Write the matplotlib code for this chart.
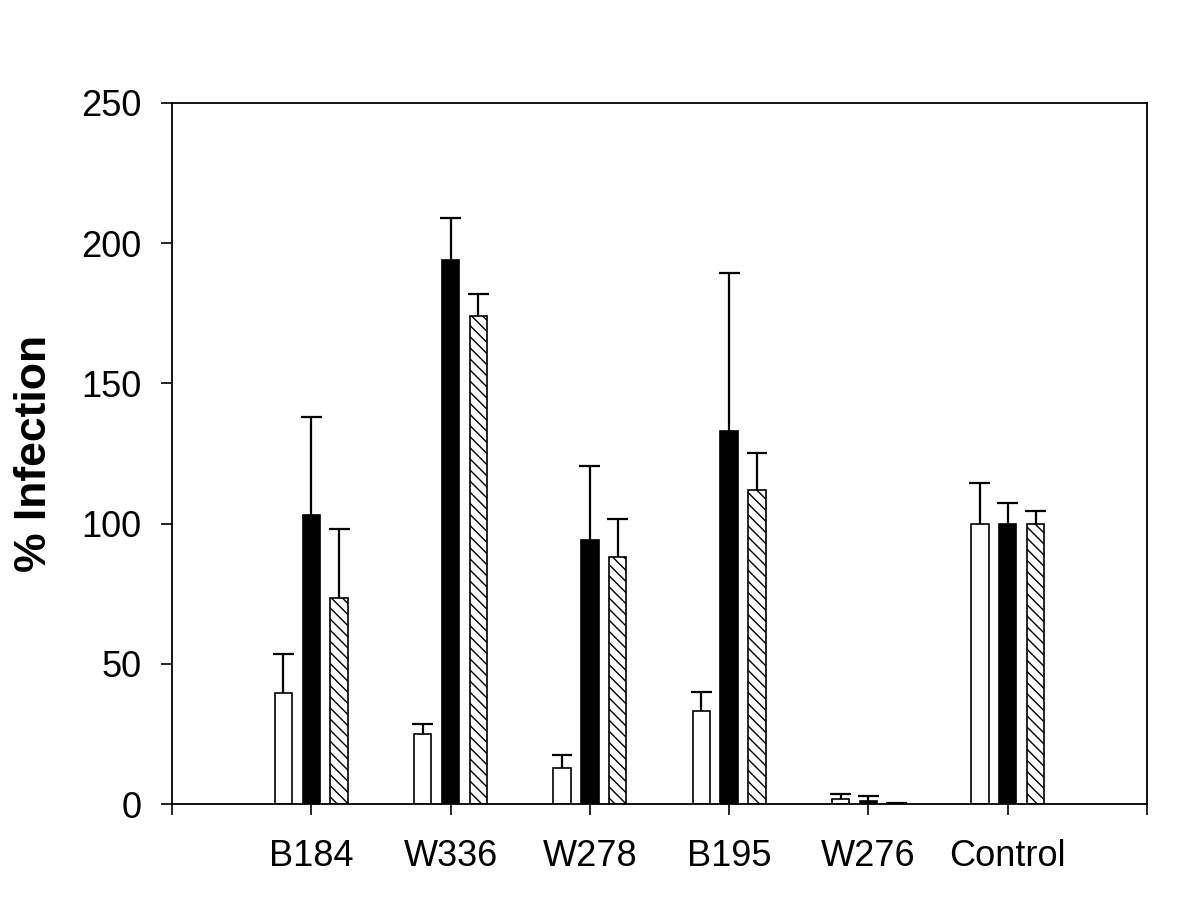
import matplotlib
matplotlib.use("Agg")
import matplotlib.pyplot as plt
import numpy as np

plt.rcParams['font.family'] = ['Liberation Sans', 'DejaVu Sans']
plt.rcParams['hatch.linewidth'] = 1.0

categories = ["B184", "W336", "W278", "B195", "W276", "Control"]
white_vals = [39.5, 25.0, 13.0, 33.2, 1.8, 100.0]
white_err = [14.0, 3.6, 4.6, 6.8, 1.8, 14.5]
black_vals = [103.0, 194.0, 94.0, 133.0, 1.2, 100.0]
black_err = [35.0, 15.0, 26.7, 56.3, 1.8, 7.5]
hatch_vals = [73.6, 174.0, 88.0, 112.0, 0.5, 100.0]
hatch_err = [24.6, 8.0, 13.8, 13.0, 0.0, 4.5]

fig = plt.figure(figsize=(12, 9.05), dpi=100)
ax = fig.add_axes([0.1433, 0.1116, 0.8125, 0.7746])

x = np.arange(1, len(categories) + 1)
w = 0.125
off = 0.2
cap = 0.075

def draw(vals, errs, pos, **kw):
    vals = np.asarray(vals)
    errs = np.asarray(errs)
    tops = vals + errs
    ax.bar(pos, vals, width=w, edgecolor='black', linewidth=1.2, zorder=2, **kw)
    ax.vlines(pos, vals, tops, color='black', linewidth=1.6, zorder=1)
    ax.hlines(tops, pos - cap, pos + cap, color='black', linewidth=1.6, zorder=1)

draw(white_vals, white_err, x - off, color='white')
draw(black_vals, black_err, x, color='black')
draw(hatch_vals, hatch_err, x + off, color='white', hatch='\\\\\\')

ax.set_xlim(0, 7)
ax.set_ylim(0, 250)
ax.set_xticks(np.arange(0, 8))
ax.set_xticklabels([""] + categories + [""])
ax.set_yticks(np.arange(0, 251, 50))
ax.tick_params(axis='both', direction='out', length=8, width=1.2, labelsize=26)
ax.tick_params(axis='x', pad=17)
ax.tick_params(axis='y', pad=14)
for s in ax.spines.values():
    s.set_linewidth(1.3)
ax.set_ylabel("% Infection", fontsize=32, fontweight='bold', labelpad=19)

fig.savefig("out.png", dpi=100)
